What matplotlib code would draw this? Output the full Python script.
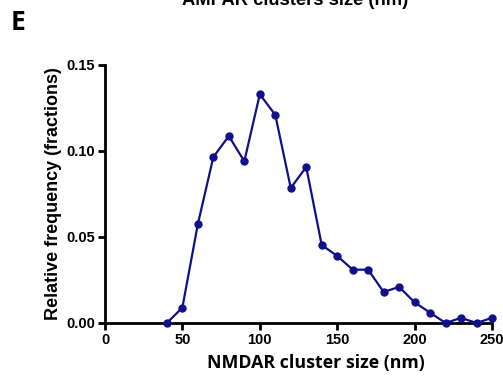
import matplotlib
matplotlib.use("Agg")
import matplotlib.pyplot as plt

# bin centres (nm) and relative frequency
sizes = [40, 50, 60, 70, 80, 90, 100, 110, 120, 130, 140, 150,
         160, 170, 180, 190, 200, 210, 220, 230, 240, 250]
freq = [0.0, 0.009, 0.0576, 0.0965, 0.1087, 0.094, 0.133, 0.121, 0.0785, 0.0907, 0.0453, 0.039,
        0.031, 0.031, 0.018, 0.021, 0.012, 0.006, 0.0, 0.003, 0.0, 0.003]

x_ticks = [0, 50, 100, 150, 200, 250]
y_ticks = [0.0, 0.05, 0.10, 0.15]
y_ticklabels = ["0.00", "0.05", "0.10", "0.15"]

navy = "#10108a"

fig = plt.figure(figsize=(5.03, 3.78), dpi=100)
ax = fig.add_axes([105 / 503, 1 - 323 / 378, 387 / 503, 258 / 378])

ax.plot(sizes, freq, color=navy, lw=1.6, marker="o", ms=5, clip_on=False, zorder=3)

ax.set_xlim(0, 250)
ax.set_ylim(0, 0.15)
ax.set_xticks(x_ticks)
ax.set_yticks(y_ticks)
ax.set_yticklabels(y_ticklabels)

for side in ("top", "right"):
    ax.spines[side].set_visible(False)
for side in ("left", "bottom"):
    ax.spines[side].set_linewidth(2)
ax.tick_params(width=2, length=5, direction="out", labelsize=10.5, pad=2)
for lab in ax.get_xticklabels() + ax.get_yticklabels():
    lab.set_fontweight("bold")
    lab.set_family("Liberation Sans")

ax.set_ylabel("Relative frequency (fractions)", fontsize=13, fontweight="bold",
              family="Liberation Sans", labelpad=3)

# x label sits a bit right of the axis centre in the original
fig.text(316 / 503, 1 - 363 / 378, "NMDAR cluster size (nm)", fontsize=12.8, fontweight="bold",
         family="Open Sans", ha="center", va="center")

# panel letter and the clipped title of the panel above
fig.text(11 / 503, 1 - 23 / 378, "E", fontsize=19, fontweight="bold", family="Open Sans",
         ha="left", va="center")
fig.text(295 / 503, 1 - 5 / 378, "AMPAR clusters size (nm)", fontsize=13.2, fontweight="bold",
         family="Liberation Sans", ha="center", va="baseline")

fig.savefig("out.png", dpi=100)
